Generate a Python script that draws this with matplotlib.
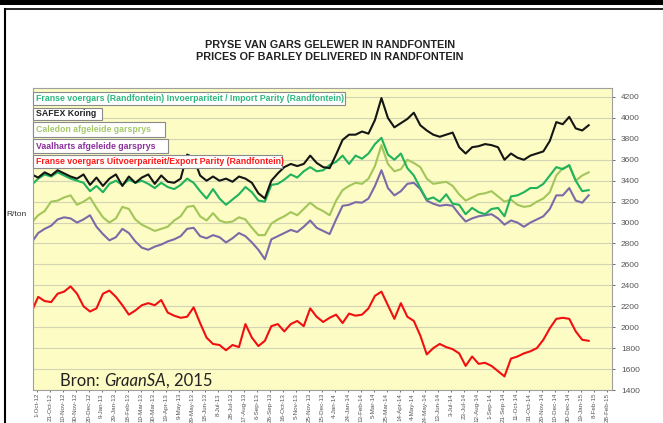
import matplotlib
matplotlib.use('Agg')
import matplotlib.pyplot as plt
from matplotlib.patches import Rectangle
from matplotlib.lines import Line2D
import pandas as pd

plt.rcParams['font.family'] = ['Liberation Sans', 'DejaVu Sans']
NARROW = ['Liberation Sans Narrow', 'Liberation Sans', 'DejaVu Sans']

# data: one value every 10 days from 23-Sep-2012
dates = pd.date_range('2012-09-23', periods=87, freq='10D')

safex = [3460, 3430, 3480, 3450, 3500, 3470, 3440, 3420, 3460, 3360,
         3430, 3350, 3420, 3460, 3350, 3440, 3380, 3430, 3460, 3370,
         3450, 3390, 3380, 3420, 3650, 3620, 3450, 3400, 3440, 3400,
         3420, 3390, 3440, 3420, 3380, 3280, 3230, 3400, 3470, 3530,
         3560, 3540, 3560, 3640, 3570, 3530, 3520, 3650, 3790, 3840,
         3840, 3870, 3850, 3980, 4190, 4000, 3910, 3950, 3990, 4050,
         3930, 3880, 3840, 3820, 3840, 3860, 3720, 3660, 3720, 3730,
         3750, 3740, 3720, 3600, 3660, 3620, 3600, 3640, 3660, 3680,
         3780, 3960, 3940, 4010, 3900, 3880, 3930]

import_parity = [3360, 3420, 3460, 3440, 3480, 3450, 3420, 3400, 3380, 3300,
                 3350, 3290, 3370, 3400, 3360, 3410, 3380, 3400, 3370, 3330,
                 3380, 3340, 3320, 3360, 3420, 3380, 3300, 3230, 3320, 3230,
                 3170, 3220, 3270, 3340, 3290, 3210, 3200, 3360, 3370, 3410,
                 3460, 3430, 3490, 3530, 3490, 3500, 3550, 3580, 3640, 3560,
                 3640, 3610, 3660, 3750, 3810, 3650, 3600, 3660, 3520, 3450,
                 3330, 3220, 3240, 3200, 3270, 3180, 3170, 3080, 3140, 3100,
                 3080, 3130, 3140, 3060, 3250, 3260, 3290, 3330, 3330, 3370,
                 3450, 3530, 3510, 3550, 3400, 3300, 3310]

caledon = [3000, 3070, 3110, 3200, 3210, 3240, 3260, 3170, 3200, 3240,
           3140, 3050, 3000, 3040, 3150, 3130, 3030, 2980, 2950, 2920,
           2940, 2960, 3020, 3060, 3150, 3160, 3060, 3020, 3090, 3020,
           3000, 3010, 3050, 3030, 2950, 2880, 2880, 2990, 3030, 3060,
           3100, 3070, 3130, 3190, 3140, 3110, 3070, 3210, 3310, 3350,
           3380, 3370, 3420, 3540, 3740, 3560, 3490, 3510, 3600, 3570,
           3530, 3420, 3370, 3380, 3390, 3350, 3270, 3210, 3240, 3270,
           3280, 3300, 3250, 3200, 3220, 3170, 3150, 3160, 3200, 3230,
           3290, 3450, 3520, 3540, 3400, 3450, 3480]

vaalharts = [2810, 2900, 2940, 2970, 3030, 3050, 3040, 3000, 3030, 3070,
             2960, 2890, 2830, 2860, 2940, 2900, 2820, 2760, 2740, 2770,
             2790, 2820, 2840, 2870, 2940, 2950, 2870, 2850, 2880, 2860,
             2810, 2850, 2900, 2870, 2810, 2740, 2650, 2840, 2870, 2900,
             2930, 2910, 2960, 3020, 2950, 2920, 2890, 3030, 3160, 3170,
             3195, 3190, 3230, 3350, 3500, 3330, 3260, 3300, 3370, 3380,
             3320, 3210, 3180, 3160, 3170, 3160, 3080, 3010, 3040, 3060,
             3070, 3080, 3040, 2980, 3020, 3000, 2960, 3000, 3030, 3060,
             3130, 3260, 3260, 3330, 3210, 3190, 3260]

export_parity = [2150, 2290, 2250, 2240, 2320, 2340, 2390, 2320, 2200, 2150,
                 2180, 2320, 2350, 2290, 2210, 2120, 2160, 2210, 2230, 2210,
                 2260, 2140, 2110, 2090, 2100, 2190, 2040, 1900, 1840, 1830,
                 1780, 1830, 1810, 2030, 1900, 1820, 1870, 2010, 2030, 1960,
                 2030, 2060, 2010, 2180, 2100, 2050, 2090, 2120, 2040, 2130,
                 2110, 2120, 2180, 2300, 2340, 2210, 2080, 2230, 2100, 2060,
                 1920, 1740, 1800, 1840, 1810, 1790, 1750, 1630, 1720, 1650,
                 1660, 1630, 1580, 1530, 1700, 1720, 1750, 1770, 1800, 1880,
                 1990, 2080, 2090, 2080, 1960, 1880, 1870]

series_names = ['Franse voergars (Randfontein) Invoerpariteit / Import Parity (Randfontein)',
                'SAFEX Koring',
                'Caledon afgeleide garsprys',
                'Vaalharts afgeleide garsprys',
                'Franse voergars Uitvoerpariteit/Export Parity (Randfontein)']

x_ticks = pd.date_range('2012-10-01', '2015-02-28', freq='20D')
x_labels = [f"{d.day}-{d.strftime('%b-%y')}" for d in x_ticks]
y_ticks = list(range(1400, 4201, 200))

W, H = 663, 423
fig = plt.figure(figsize=(W / 100, H / 100), dpi=100)


def fx(x):
    return x / W


def fy(y):
    return 1 - y / H


ax = fig.add_axes([fx(33), fy(390), fx(612) - fx(33), fy(88) - fy(390)])
ax.set_facecolor('#fcfcc4')

ax.plot(dates, vaalharts, color='#7b6aa8', lw=1.5)
ax.plot(dates, caledon, color='#a2c65a', lw=1.5)
ax.plot(dates, import_parity, color='#1fb35c', lw=1.5)
ax.plot(dates, safex, color='#151515', lw=1.5)
ax.plot(dates, export_parity, color='#f01010', lw=1.5)

ax.set_xlim(pd.Timestamp('2012-09-25'), pd.Timestamp('2015-03-08'))
ax.set_ylim(1400, 4286)
ax.set_yticks(y_ticks)
ax.yaxis.tick_right()
ax.set_xticks(x_ticks)
ax.set_xticklabels(x_labels, rotation=90, fontsize=4.5, family=NARROW)
ax.tick_params(axis='y', labelsize=6, pad=4, length=2.5)
ax.tick_params(axis='x', pad=0.6, length=1.5)
ax.tick_params(axis='both', colors='#555', width=0.6)
ax.yaxis.grid(True, color='#d4d4b4', lw=0.8)
ax.set_axisbelow(True)
for s in ax.spines.values():
    s.set_color('#a0a0a0')
    s.set_linewidth(0.8)

# titles
fig.text(fx(330), fy(45), 'PRYSE VAN GARS GELEWER IN RANDFONTEIN', ha='center', va='center',
         fontsize=7.8, fontweight='bold', family=NARROW, color='#222')
fig.text(fx(330), fy(57), 'PRICES OF BARLEY DELIVERED IN RANDFONTEIN', ha='center', va='center',
         fontsize=7.8, fontweight='bold', family=NARROW, color='#222')
fig.text(fx(6), fy(215), 'R/ton', ha='left', va='center', fontsize=6, color='#333')

# legend boxes
boxes = [(33, 92, 345, 105), (33, 108, 102, 120), (33, 122, 165, 137),
         (33, 139, 168, 153), (33, 155, 282, 168)]
text_colors = ['#2db87d', '#222222', '#a5c96b', '#8b2f9c', '#ff1a1a']
for name, (x0, y0, x1, y1), c in zip(series_names, boxes, text_colors):
    fig.add_artist(Rectangle((fx(x0), fy(y1)), fx(x1) - fx(x0), fy(y0) - fy(y1),
                             transform=fig.transFigure, fc='white', ec='#8a8a8a', lw=0.8))
    fig.text(fx(x0 + 3), fy((y0 + y1) / 2), name, ha='left', va='center', fontsize=6.3,
             fontweight='bold', family=NARROW, color=c)

# source note
t1 = ax.text(fx(60), fy(389), 'Bron: ', transform=fig.transFigure, family=['Lato', 'DejaVu Sans'],
             fontsize=12, color='#222', va='bottom', ha='left')
t2 = ax.annotate('GraanSA', xy=(1, 0), xycoords=t1, family=['Lato', 'DejaVu Sans'],
                 fontsize=12, style='italic', color='#222', va='bottom', ha='left')
ax.annotate(', 2015', xy=(1, 0), xycoords=t2, family=['Lato', 'DejaVu Sans'],
            fontsize=12, color='#222', va='bottom', ha='left')

# outer frame
fig.add_artist(Line2D([0, 1], [fy(2.5), fy(2.5)], transform=fig.transFigure, color='black', lw=3.6))
fig.add_artist(Line2D([fx(5), 1], [fy(9), fy(9)], transform=fig.transFigure, color='black', lw=1.2))
fig.add_artist(Line2D([fx(5), fx(5)], [fy(9), 0], transform=fig.transFigure, color='black', lw=1.5))

fig.savefig('out.png', dpi=100)
